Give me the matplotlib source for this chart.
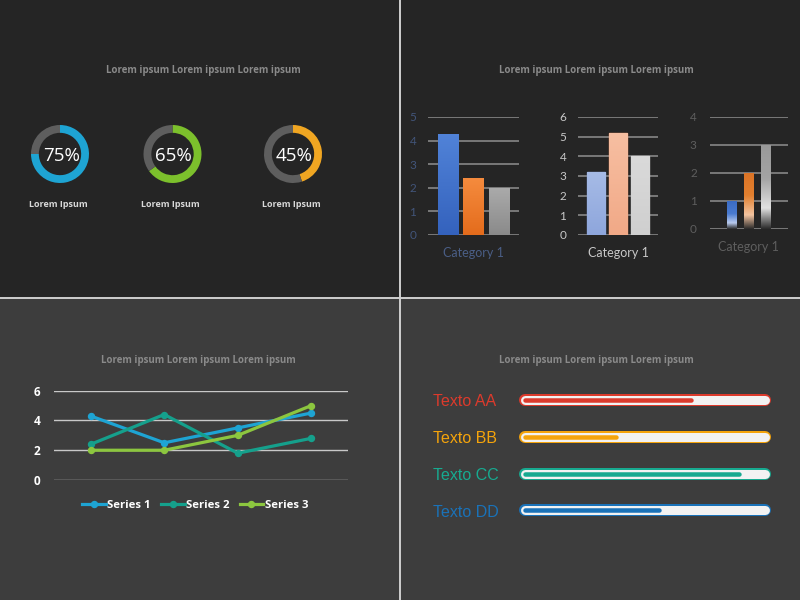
import matplotlib
matplotlib.use("Agg")
import matplotlib.pyplot as plt
import numpy as np
from matplotlib.colors import LinearSegmentedColormap
from matplotlib.lines import Line2D
from matplotlib.patches import Rectangle

# ---------------- data ----------------
donut_pcts = [75, 65, 45]
donut_colors = ["#1ea4d3", "#7cc02c", "#f0a622"]
donut_labels = ["Lorem Ipsum", "Lorem Ipsum", "Lorem Ipsum"]

title_text = "Lorem ipsum Lorem ipsum Lorem ipsum"

bar_category = "Category 1"
bars1 = [4.3, 2.4, 2.0]
bars2 = [3.2, 5.2, 4.0]
bars3 = [1, 2, 3]

line_x = [0, 1, 2, 3]
series1 = [4.3, 2.5, 3.5, 4.5]
series2 = [2.4, 4.4, 1.8, 2.8]
series3 = [2.0, 2.0, 3.0, 5.0]
series_names = ["Series 1", "Series 2", "Series 3"]
series_colors = ["#1ea4d3", "#15a08c", "#8cc63f"]
line_yticks = [0, 2, 4, 6]

prog_labels = ["Texto AA", "Texto BB", "Texto CC", "Texto DD"]
prog_values = [0.69, 0.38, 0.89, 0.56]
prog_colors = ["#dc3a2c", "#f5a40b", "#17aa90", "#1a72b8"]

# ---------------- figure ----------------
W, H = 800, 600
fig = plt.figure(figsize=(8, 6), dpi=100)
TOP_BG = "#252525"
BOT_BG = "#3d3d3d"
fig.patch.set_facecolor(TOP_BG)
fig.add_artist(Rectangle((0, 0), 1, 1 - 298 / H, transform=fig.transFigure,
                         facecolor=BOT_BG, edgecolor="none", zorder=0))
fig.add_artist(Line2D([399.5 / W, 399.5 / W], [0, 1], transform=fig.transFigure,
                      color="#cfcfcf", lw=1.4, zorder=5))
fig.add_artist(Line2D([0, 1], [1 - 298 / H, 1 - 298 / H], transform=fig.transFigure,
                      color="#cfcfcf", lw=1.4, zorder=5))


def px_axes(x0, y0, x1, y1):
    return fig.add_axes([x0 / W, 1 - y1 / H, (x1 - x0) / W, (y1 - y0) / H])


def ftext(x, y, s, **kw):
    fig.text(x / W, 1 - y / H, s, **kw)


PT = 0.72  # points per pixel

# titles
for (tx, ty) in [(203, 71), (596, 71), (198, 360), (596, 360)]:
    ftext(tx, ty, title_text, ha="center", va="center", fontsize=7.0,
          fontweight="bold", color="#8a8a8a", family="Open Sans")

# ---------------- donuts ----------------
donut_cx = [60, 172.5, 293]
for cx, pct, col, lab in zip(donut_cx, donut_pcts, donut_colors, donut_labels):
    r = 29
    ax = px_axes(cx - r, 154 - r, cx + r, 154 + r)
    ax.set_facecolor("none")
    ax.pie([pct, 100 - pct], colors=[col, "#5e5e5e"], startangle=90,
           counterclock=False, radius=1.0,
           wedgeprops=dict(width=0.27, edgecolor="none"))
    ax.set_xlim(-1, 1)
    ax.set_ylim(-1, 1)
    ax.set_aspect("equal")
    ax.axis("off")
    ax.text(0.04, -0.08, f"{pct}%", ha="center", va="center", fontsize=13.5,
            color="white", family="Open Sans")
    ftext(cx - 2, 204, lab, ha="center", va="center", fontsize=6.5,
          fontweight="bold", color="#d8d8d8", family="Open Sans")


# ---------------- bar charts ----------------
def grad_bar(ax, bar, cmap):
    x0 = bar.get_x()
    w = bar.get_width()
    h = bar.get_height()
    grad = np.linspace(0, 1, 256).reshape(-1, 1)
    im = ax.imshow(grad, extent=[x0, x0 + w, 0, h], origin="lower",
                   cmap=cmap, aspect="auto", zorder=3)
    im.set_clip_path(bar)
    bar.set_facecolor("none")


def style_bar_ax(ax, ymax, tick_color, cat_color, pad):
    ax.set_facecolor("none")
    ax.set_ylim(0, ymax)
    ax.set_yticks(range(0, ymax + 1))
    for s in ax.spines.values():
        s.set_visible(False)
    ax.yaxis.grid(True, color="#8f8f8f", lw=1.1, zorder=0)
    ax.set_axisbelow(True)
    ax.tick_params(axis="y", length=0, pad=pad, labelcolor=tick_color, labelsize=8.5)
    ax.tick_params(axis="x", length=0, pad=9, labelcolor=cat_color, labelsize=9)
    for t in ax.get_yticklabels() + ax.get_xticklabels():
        t.set_family("Lato")


# chart 1
ax1 = px_axes(428, 117, 519, 235)
b = ax1.bar([0, 1, 2], bars1, width=0.81, zorder=3)
cm_list = [
    LinearSegmentedColormap.from_list("b1", ["#3462bd", "#5183d8"]),
    LinearSegmentedColormap.from_list("o1", ["#e46c1c", "#f58b3e"]),
    LinearSegmentedColormap.from_list("g1", ["#8a8a8a", "#ababab"]),
]
for bar, cm in zip(b, cm_list):
    grad_bar(ax1, bar, cm)
ax1.set_xlim(-0.81, 2.8)
ax1.set_xticks([1], [bar_category])
style_bar_ax(ax1, 5, "#42557a", "#4a5e86", 8.5)

# chart 2
ax2 = px_axes(578, 117, 658, 235)
b = ax2.bar([0, 1, 2], bars2, width=0.84, zorder=3, linewidth=1.0,
            edgecolor=["#7d99d6", "#ef8f62", "#c4c4c4"])
cm_list = [
    LinearSegmentedColormap.from_list("b2", ["#8ea6dc", "#a6bbe6"]),
    LinearSegmentedColormap.from_list("o2", ["#f1a987", "#f7bfa2"]),
    LinearSegmentedColormap.from_list("g2", ["#cfcfcf", "#dadada"]),
]
for bar, cm in zip(b, cm_list):
    grad_bar(ax2, bar, cm)
ax2.set_xlim(-0.82, 2.82)
ax2.set_xticks([1], [bar_category])
style_bar_ax(ax2, 6, "#c8c8c8", "#c8c8c8", 8.5)

# chart 3
ax3 = px_axes(710, 117, 788, 229)
b = ax3.bar([0, 1, 2], bars3, width=0.57, zorder=3)
cm_list = [
    LinearSegmentedColormap.from_list("b3", [(0, "#2a2a2a"), (0.22, "#b9cbee"), (0.55, "#4a7bd0"), (1, "#3b6cc4")]),
    LinearSegmentedColormap.from_list("o3", [(0, "#2a2a2a"), (0.25, "#f3c4a0"), (0.6, "#e2802f"), (1, "#dc7426")]),
    LinearSegmentedColormap.from_list("g3", [(0, "#2a2a2a"), (0.25, "#e2e2e2"), (0.6, "#a4a4a4"), (1, "#999999")]),
]
for bar, cm in zip(b, cm_list):
    grad_bar(ax3, bar, cm)
ax3.set_xlim(-1.32, 3.35)
ax3.set_xticks([1], [bar_category])
style_bar_ax(ax3, 4, "#5e5e5e", "#5e5e5e", 9.5)

# ---------------- line chart ----------------
axl = px_axes(54, 390.7, 348, 480)
axl.set_facecolor("none")
for ys, nm, col in zip([series1, series2, series3], series_names, series_colors):
    axl.plot(line_x, ys, color=col, lw=2.3, marker="o", markersize=4.3,
             label=nm, zorder=3)
axl.set_xlim(-0.5, 3.5)
axl.set_ylim(0, 6)
axl.set_yticks(line_yticks)
axl.set_xticks([])
for s in axl.spines.values():
    s.set_visible(False)
axl.yaxis.grid(True, color="#c8c8c8", lw=1.0, zorder=0)
axl.set_axisbelow(True)
axl.tick_params(axis="y", length=0, pad=10, labelcolor="white", labelsize=8.5)
for t in axl.get_yticklabels():
    t.set_family("Open Sans")
    t.set_fontweight("bold")
leg = fig.legend(loc="center", bbox_to_anchor=(195 / W, 1 - 505 / H), ncol=3,
                 frameon=False, handlelength=2.1, handletextpad=0.1,
                 columnspacing=0.9,
                 prop=dict(family="Open Sans", weight="bold", size=8.2))
for t in leg.get_texts():
    t.set_color("white")

# ---------------- progress bars ----------------
axp = px_axes(525, 381.6, 765, 528.7)
axp.set_facecolor("none")
axp.set_xlim(0, 1)
axp.set_ylim(3.5, -0.5)
axp.axis("off")
for i, (lab, v, col) in enumerate(zip(prog_labels, prog_values, prog_colors)):
    axp.plot([0, 1], [i, i], color=col, lw=12 * PT, solid_capstyle="round",
             zorder=2, clip_on=False)
    axp.plot([0, 1], [i, i], color="#f2f2f2", lw=9 * PT, solid_capstyle="round",
             zorder=3, clip_on=False)
    axp.plot([0, v], [i, i], color=col, lw=4.5 * PT, solid_capstyle="round",
             zorder=4, clip_on=False)
    axp.text((433 - 525) / 240, i + 0.05, lab, ha="left", va="center", fontsize=11.5,
             color=col, family="Liberation Sans")

fig.savefig("out.png", dpi=100, facecolor=fig.get_facecolor())
